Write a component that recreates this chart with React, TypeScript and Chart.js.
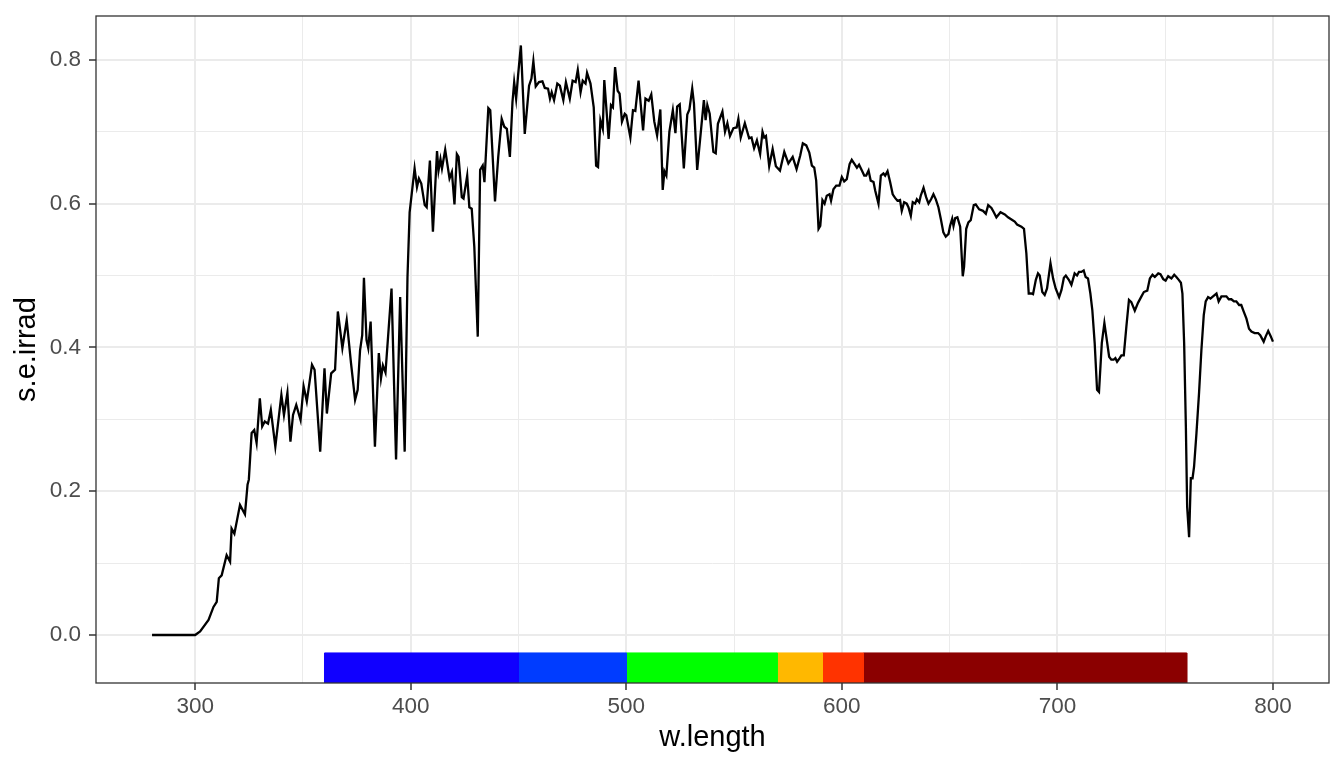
import React, { useEffect, useRef } from "react";
import { Chart, registerables } from "chart.js";

Chart.register(...registerables);

// Spectral irradiance (wavelength nm, s.e.irrad)
const wavelength: number[] = [
  280, 290, 300, 302.3, 306.2, 308.5, 310, 311, 312.3, 314.6, 316.2, 316.9, 318.2, 320.8, 323.1, 324.3, 324.9,
  326.2, 327.4, 328.5, 330, 331.1, 332.3, 333.8, 335.1, 337.2, 340, 341.2, 342.8, 344.2, 345.4, 346.9, 348.9,
  350.3, 351.8, 354.2, 355.4, 358, 360, 361.1, 363.1, 364.9, 366.2, 368.3, 370.3, 372.3, 374.2, 375.4, 376.5,
  377.5, 378.3, 379.5, 380.3, 381.4, 383.4, 385.2, 386.2, 387.1, 388.3, 389.5, 391.1, 393.2, 395.1, 397.2,
  398.5, 399.5, 401.8, 402.9, 403.8, 404.9, 406.5, 407.4, 408.9, 410.3, 412.2, 412.9, 413.8, 414.5, 416, 418,
  419.1, 420.3, 421.4, 422.2, 423.7, 424.5, 426.2, 427.2, 428.3, 429.5, 431.1, 432.2, 433.4, 434.2, 436, 436.9,
  439.1, 440.6, 442.2, 443.4, 444.6, 446, 447.2, 448, 448.9, 449.8, 451.1, 452.9, 454.9, 456, 456.9, 458, 459.5,
  461.1, 462.2, 463.7, 464.6, 465.4, 466.5, 468, 469.2, 470.8, 472, 473.8, 475.1, 476.5, 477.5, 478.8, 479.8,
  481.1, 481.8, 483.4, 484.9, 486, 486.9, 488, 489.1, 489.8, 491.8, 492.9, 493.8, 494.8, 496, 496.9, 498, 499.3,
  500, 501.9, 503.1, 504.2, 505.7, 507.8, 508.9, 510.4, 511.6, 513, 514.3, 515.8, 516.9, 517.7, 518.6, 520,
  521.6, 522.8, 523.6, 524.8, 526.7, 528.3, 529.3, 530.6, 531.4, 532.9, 536, 536.8, 537.6, 538.7, 540.4, 541.5,
  542.5, 544.6, 545.8, 546.9, 548.1, 549.7, 551.2, 552, 553.1, 555, 557, 558.1, 559.3, 560.6, 562.1, 563.2, 564,
  564.8, 566.3, 567.9, 569.4, 571.3, 573.3, 575.2, 577.2, 579, 580.7, 581.9, 583.5, 584.9, 586.1, 587.2, 588.1,
  589.2, 590, 591, 592, 593, 594.3, 595, 596.1, 597.4, 598.9, 600, 601.1, 602.3, 603.6, 604.6, 605.7, 607, 608,
  609.3, 610.4, 611.3, 612.4, 613.4, 614.7, 615.5, 617, 618.1, 619.3, 620.1, 621.2, 622.4, 623.6, 624.7, 625.8,
  627, 627.8, 628.9, 630.1, 630.9, 632, 632.9, 634, 634.8, 635.9, 636.6, 637.9, 639.1, 640.2, 641.4, 642.5,
  643.6, 644.8, 645.9, 647.1, 648.2, 649.5, 650.2, 651.2, 651.8, 652.6, 653.6, 654.9, 656.1, 656.7, 657.7, 658.7,
  659.8, 661.2, 662.1, 663.7, 665.5, 666.8, 667.9, 669.4, 670.5, 671.7, 673.6, 675.6, 677.1, 678.7, 680.2, 681.3,
  683.3, 684.5, 685.6, 686.7, 687.9, 688.7, 690, 691, 691.8, 693, 694.1, 695.2, 696.8, 698, 699.2, 700.8, 701.9,
  703, 703.9, 705.3, 706.5, 708, 709.1, 710, 711.1, 712.2, 713.1, 714.2, 715.3, 716.2, 717.3, 718.4, 719.3, 720.6,
  721.8, 722.7, 724, 725, 726.1, 726.9, 727.7, 728.9, 729.7, 730.8, 732, 733.2, 734.3, 735.9, 737.4, 739, 740.1,
  741.7, 742.9, 744.1, 745.2, 746.8, 747.8, 749.1, 750.2, 751.4, 752.9, 754.2, 755.2, 756.3, 757.3, 758, 758.8,
  759.6, 760.2, 761.1, 761.9, 762.7, 763.4, 764.5, 765.7, 766.8, 767.9, 768.8, 769.9, 771, 772.2, 773.8, 774.8,
  776.1, 777.2, 778.4, 779.5, 780.7, 781.9, 783, 784.3, 785.3, 786.4, 787.7, 788.9, 790, 791.5, 793.1, 794.1,
  795.7, 796.6, 797.8, 798.9, 800,
];

const irradiance: number[] = [
  0, 0, 0, 0.005, 0.021, 0.039, 0.046, 0.079, 0.083, 0.111, 0.102, 0.148, 0.141, 0.181, 0.168, 0.209, 0.216,
  0.281, 0.285, 0.267, 0.329, 0.29, 0.297, 0.294, 0.313, 0.262, 0.334, 0.306, 0.337, 0.269, 0.306, 0.32, 0.299,
  0.346, 0.325, 0.376, 0.369, 0.255, 0.371, 0.308, 0.364, 0.369, 0.45, 0.399, 0.438, 0.378, 0.327, 0.341, 0.396,
  0.417, 0.497, 0.41, 0.399, 0.436, 0.262, 0.392, 0.357, 0.375, 0.365, 0.415, 0.482, 0.244, 0.47, 0.255,
  0.498, 0.588, 0.649, 0.623, 0.635, 0.628, 0.598, 0.595, 0.66, 0.561, 0.673, 0.646, 0.662, 0.649, 0.675, 0.635,
  0.644, 0.599, 0.669, 0.665, 0.609, 0.607, 0.639, 0.595, 0.593, 0.54, 0.415, 0.647, 0.653, 0.63, 0.733, 0.73,
  0.603, 0.665, 0.718, 0.707, 0.704, 0.665, 0.741, 0.769, 0.746, 0.778, 0.82, 0.697, 0.764, 0.774, 0.798, 0.763, 0.769,
  0.77, 0.761, 0.76, 0.746, 0.755, 0.744, 0.767, 0.764, 0.744, 0.769, 0.746, 0.771, 0.769, 0.786, 0.755, 0.771,
  0.767, 0.782, 0.767, 0.734, 0.653, 0.651, 0.716, 0.704, 0.772, 0.69, 0.737, 0.734, 0.79, 0.757, 0.753, 0.714, 0.725,
  0.723, 0.692, 0.73, 0.729, 0.771, 0.702, 0.746, 0.743, 0.752, 0.714, 0.695, 0.731, 0.619, 0.645, 0.639, 0.7,
  0.73, 0.698, 0.735, 0.738, 0.649, 0.724, 0.731, 0.76, 0.739, 0.647, 0.744, 0.716, 0.737, 0.725, 0.672, 0.67,
  0.711, 0.728, 0.7, 0.712, 0.694, 0.705, 0.706, 0.718, 0.692, 0.712, 0.691, 0.692, 0.677, 0.688, 0.669, 0.7, 0.692,
  0.694, 0.652, 0.676, 0.652, 0.646, 0.672, 0.656, 0.665, 0.648, 0.667, 0.684, 0.681, 0.671, 0.653, 0.65, 0.632,
  0.565, 0.569, 0.605, 0.6, 0.611, 0.613, 0.604, 0.62, 0.625, 0.625, 0.637, 0.631, 0.634, 0.655, 0.661, 0.656, 0.65, 0.654,
  0.646, 0.639, 0.639, 0.646, 0.632, 0.63, 0.618, 0.6, 0.639, 0.642, 0.639, 0.645, 0.63, 0.613, 0.608, 0.604,
  0.605, 0.59, 0.602, 0.6, 0.595, 0.583, 0.602, 0.6, 0.606, 0.602, 0.611, 0.622, 0.609, 0.6, 0.606, 0.613,
  0.606, 0.595, 0.579, 0.56, 0.554, 0.558, 0.569, 0.579, 0.569, 0.58, 0.581, 0.568, 0.499, 0.512, 0.565, 0.574,
  0.577, 0.598, 0.599, 0.592, 0.59, 0.586, 0.598, 0.594, 0.588, 0.581, 0.588, 0.585, 0.581, 0.578, 0.575, 0.571,
  0.568, 0.565, 0.531, 0.475, 0.475, 0.474, 0.494, 0.503, 0.5, 0.477, 0.473, 0.482, 0.517, 0.496, 0.482, 0.47, 0.48,
  0.497, 0.5, 0.494, 0.487, 0.503, 0.5, 0.505, 0.505, 0.507, 0.498, 0.496, 0.475, 0.452, 0.406, 0.341, 0.338, 0.406,
  0.434, 0.415, 0.387, 0.383, 0.383, 0.385, 0.38, 0.385, 0.389, 0.389, 0.429, 0.466, 0.463, 0.451, 0.462, 0.471, 0.477,
  0.479, 0.496, 0.501, 0.498, 0.503, 0.502, 0.495, 0.493, 0.499, 0.496, 0.501, 0.498, 0.494, 0.49, 0.475, 0.406,
  0.29, 0.178, 0.136, 0.218, 0.218, 0.234, 0.28, 0.336, 0.396, 0.445, 0.464, 0.47, 0.468, 0.471, 0.475, 0.464,
  0.471, 0.471, 0.471, 0.467, 0.467, 0.464, 0.464, 0.459, 0.459, 0.45, 0.44, 0.426, 0.422, 0.42, 0.42, 0.417,
  0.408, 0.415, 0.423, 0.416, 0.408,
];

// Colour guide bands (nm)
const bandStart: number[] = [360, 450, 500, 570, 591, 610];
const bandEnd: number[] = [450, 500, 570, 591, 610, 760];
const bandColors: string[] = ["#1000FF", "#003CFF", "#00FF00", "#FFB800", "#FF3300", "#8B0000"];
const bandTop = -0.025;

const xTicks: number[] = [300, 350, 400, 450, 500, 550, 600, 650, 700, 750, 800];
const yTicks: number[] = [0, 0.1, 0.2, 0.3, 0.4, 0.5, 0.6, 0.7, 0.8];

const X_MIN = 254;
const X_MAX = 826;
const Y_MIN = -0.0668;
const Y_MAX = 0.861;

const FONT = "'Liberation Sans', Arial, sans-serif";

const panelBorder = {
  id: "panelBorder",
  afterDraw(chart: any) {
    const { ctx, chartArea } = chart;
    ctx.save();
    ctx.strokeStyle = "#333333";
    ctx.lineWidth = 1.3;
    ctx.strokeRect(chartArea.left, chartArea.top, chartArea.right - chartArea.left, chartArea.bottom - chartArea.top);
    ctx.restore();
  },
};

export default function App() {
  const ref = useRef<HTMLCanvasElement | null>(null);

  useEffect(() => {
    if (!ref.current) return;
    const lineData = wavelength.map((w, i) => ({ x: w, y: irradiance[i] }));
    const bandSets = bandStart.map((s, i) => ({
      type: "line" as const,
      data: [
        { x: s, y: Y_MIN },
        { x: s, y: bandTop },
        { x: bandEnd[i], y: bandTop },
        { x: bandEnd[i], y: Y_MIN },
      ],
      borderWidth: 1,
      borderColor: bandColors[i],
      backgroundColor: bandColors[i],
      pointRadius: 0,
      fill: { value: Y_MIN },
      order: 2,
    }));

    const isMajorX = (v: number) => Math.round(v) % 100 === 0;
    const isMajorY = (v: number) => Math.round(v * 10) % 2 === 0;

    const chart = new Chart(ref.current, {
      type: "line",
      data: {
        datasets: [
          {
            data: lineData,
            borderColor: "#000000",
            borderWidth: 2.3,
            pointRadius: 0,
            tension: 0,
            fill: false,
            order: 1,
          },
          ...bandSets,
        ] as any,
      },
      options: {
        animation: false,
        responsive: false,
        devicePixelRatio: 1,
        layout: { padding: { top: 16, right: 15, left: 0, bottom: 0 } },
        plugins: { legend: { display: false }, tooltip: { enabled: false } },
        scales: {
          x: {
            type: "linear",
            min: X_MIN,
            max: X_MAX,
            afterBuildTicks: (axis: any) => {
              axis.ticks = xTicks.map((v) => ({ value: v }));
            },
            afterFit: (scale: any) => {
              scale.height = 85;
              scale.paddingLeft = 0;
              scale.paddingRight = 0;
            },
            border: { display: false },
            grid: {
              color: "#EBEBEB",
              lineWidth: (c: any) => (c.tick && isMajorX(c.tick.value) ? 2 : 1),
              tickColor: (c: any) => (c.tick && isMajorX(c.tick.value) ? "#333333" : "rgba(0,0,0,0)"),
              tickLength: 7,
              tickWidth: 1.5,
            },
            ticks: {
              autoSkip: false,
              maxRotation: 0,
              padding: 3,
              color: "#4D4D4D",
              font: { family: FONT, size: 22.5 },
              callback: (v: any) => (isMajorX(Number(v)) ? String(v) : ""),
            },
            title: {
              display: true,
              text: "w.length",
              color: "#000000",
              font: { family: FONT, size: 29 },
              padding: { top: 0, bottom: 13 },
            },
          },
          y: {
            type: "linear",
            min: Y_MIN,
            max: Y_MAX,
            afterBuildTicks: (axis: any) => {
              axis.ticks = yTicks.map((v) => ({ value: v }));
            },
            afterFit: (scale: any) => {
              scale.width = 96;
              scale.paddingTop = 0;
              scale.paddingBottom = 0;
            },
            border: { display: false },
            grid: {
              color: "#EBEBEB",
              lineWidth: (c: any) => (c.tick && isMajorY(c.tick.value) ? 2 : 1),
              tickColor: (c: any) => (c.tick && isMajorY(c.tick.value) ? "#333333" : "rgba(0,0,0,0)"),
              tickLength: 7,
              tickWidth: 1.5,
            },
            ticks: {
              autoSkip: false,
              padding: 8,
              color: "#4D4D4D",
              font: { family: FONT, size: 22.5 },
              callback: (v: any) => (isMajorY(Number(v)) ? Number(v).toFixed(1) : ""),
            },
            title: {
              display: true,
              text: "s.e.irrad",
              color: "#000000",
              font: { family: FONT, size: 29 },
              padding: { top: 10, bottom: 0 },
            },
          },
        },
      },
      plugins: [panelBorder],
    });
    return () => chart.destroy();
  }, []);

  return (
    <div style={{ position: "absolute", left: 0, top: 0, width: 1344, height: 768, background: "#ffffff" }}>
      <canvas ref={ref} width={1344} height={768} style={{ width: 1344, height: 768 }} />
    </div>
  );
}
